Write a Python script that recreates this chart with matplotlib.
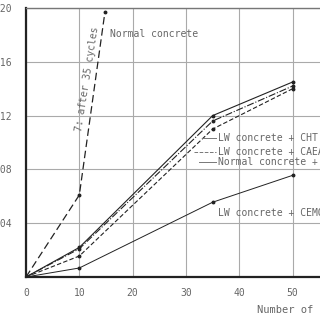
import matplotlib
matplotlib.use("Agg")
import matplotlib.pyplot as plt

cycles = [0, 10, 35, 50]
lw_cht = [0, 0.022, 0.120, 0.145]
lw_caea = [0, 0.021, 0.116, 0.142]
normal_c = [0, 0.0156, 0.110, 0.140]
lw_cemo = [0, 0.0067, 0.0556, 0.0756]

normal_x = [0, 10, 14.8]
normal_y = [0, 0.061, 0.197]

xticks = [0, 10, 20, 30, 40, 50, 60]
yticks = [0, 0.04, 0.08, 0.12, 0.16, 0.20]
ytick_labels = ["", ".04", ".08", ".12", ".16", ".20"]

mono = "DejaVu Sans Mono"
txt = "#666666"
ink = "#222222"

fig = plt.figure(figsize=(3.2, 3.2), dpi=100)
ax = fig.add_axes([26 / 320, 43 / 320, 320 / 320, 269 / 320])

ax.plot(cycles, lw_cht, "-", color=ink, lw=0.8, marker="o", ms=1.8)
ax.plot(cycles, lw_caea, "-.", color=ink, lw=0.8, marker="o", ms=1.8)
ax.plot(cycles, normal_c, "--", color=ink, lw=0.8, marker="o", ms=1.8, dashes=(4, 2))
ax.plot(cycles, lw_cemo, "-", color=ink, lw=0.7, marker="o", ms=1.8)
ax.plot(normal_x, normal_y, "--", color=ink, lw=0.9, marker="o", ms=1.8, dashes=(6, 3))

ax.set_xlim(0, 60)
ax.set_ylim(0, 0.2)
ax.set_xticks(xticks)
ax.set_yticks(yticks)
ax.set_yticklabels(ytick_labels)
ax.grid(True, color="#aaaaaa", lw=0.8)
ax.tick_params(length=0, labelsize=7, labelcolor=txt)
ax.tick_params(axis="y", pad=10)
ax.tick_params(axis="x", pad=8)
for lbl in ax.get_xticklabels() + ax.get_yticklabels():
    lbl.set_family(mono)

for side in ["left", "bottom"]:
    ax.spines[side].set_linewidth(1.6)
    ax.spines[side].set_color(ink)
ax.spines["top"].set_linewidth(1.0)
ax.spines["top"].set_color("#777777")
ax.spines["right"].set_visible(False)

ax.text(15.75, 0.181, "Normal concrete", fontsize=7, family=mono, color=txt, va="center")
ax.text(11.5, 0.147, "7: after 35 cycles", fontsize=7, family=mono, color=txt,
        rotation=81, ha="center", va="center")

labels = [("LW concrete + CHT", 0.1037, "-", 33.0),
          ("LW concrete + CAEA", 0.0933, "--", 31.5),
          ("Normal concrete + C", 0.0852, "-", 32.5)]
for name, yy, ls, x0 in labels:
    ax.text(36.0, yy, name, fontsize=7, family=mono, color=txt, va="center")
    ax.plot([x0, 35.6], [yy, yy], ls=ls, color="#777777", lw=0.7)

ax.text(36.0, 0.0474, "LW concrete + CEMO", fontsize=7, family=mono, color=txt, va="center")
ax.text(43.3, -0.0244, "Number of cycles", fontsize=7.5, family=mono, color=txt,
        va="center", clip_on=False)

fig.savefig("out.png", dpi=100)
